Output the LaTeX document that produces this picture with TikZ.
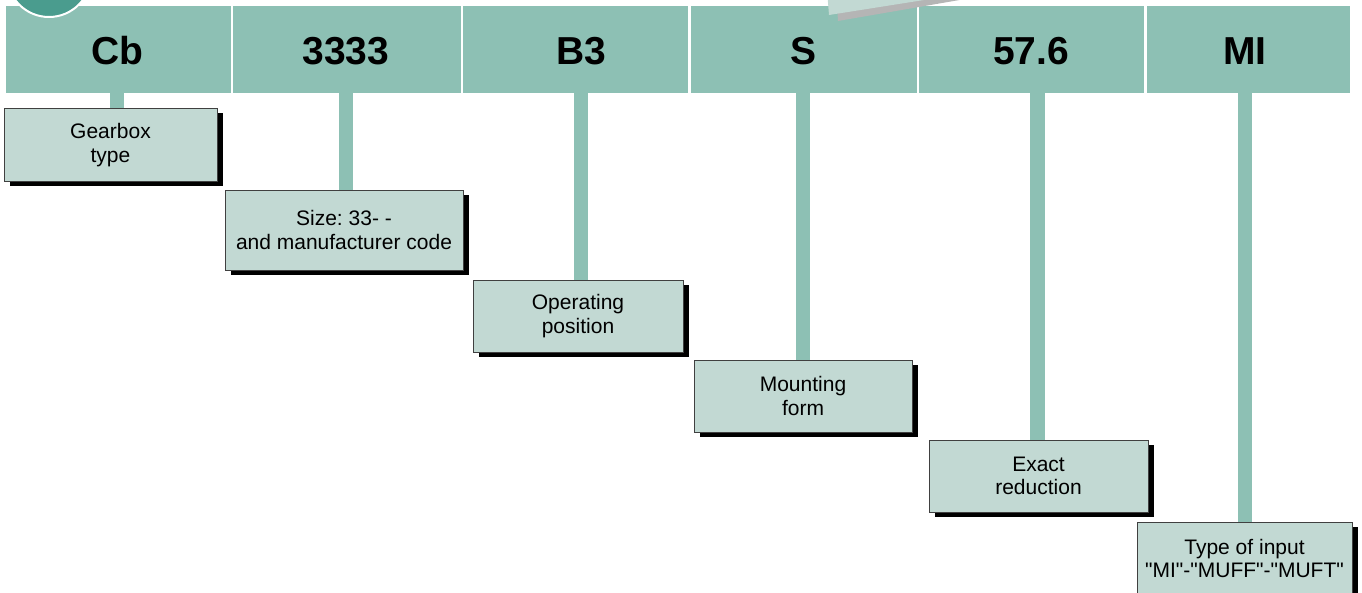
\documentclass[tikz,border=0pt]{standalone}
\usepackage{fontspec}
\setmainfont{Liberation Sans}[Ligatures=TeXOff]
\usetikzlibrary{shadows}
\definecolor{hdrteal}{HTML}{8DC0B4}
\definecolor{boxteal}{HTML}{C2D9D3}
\definecolor{darkteal}{HTML}{4A9C8E}
\definecolor{shadegrey}{HTML}{B5B5B5}
\frenchspacing
\begin{document}
\begin{tikzpicture}[x=1pt, y=-1pt,
    cell/.style = {fill=hdrteal, inner sep=0pt, minimum height=87pt},
    code/.style = {font=\fontsize{39}{39}\selectfont\bfseries, text height=28pt, text depth=0pt, inner sep=0pt},
    info/.style = {draw=black!75, line width=0.8pt, fill=boxteal, align=center, inner sep=0pt,
                   font=\fontsize{21}{23.5}\selectfont,
                   drop shadow={shadow xshift=6pt, shadow yshift=-5pt, fill=black, opacity=1}},
    stem/.style = {draw=hdrteal, line width=14.5pt}]
    \useasboundingbox (0,0) rectangle (1362,593);
    \clip (0,0) rectangle (1362,593);

    % header cells
    \node[cell, minimum width=225pt] (hCb) at (118.5, 49.5) {};
    \node[cell, minimum width=228pt] (hSize) at (347, 49.5) {};
    \node[cell, minimum width=225pt] (hPos) at (575.5, 49.5) {};
    \node[cell, minimum width=226pt] (hMount) at (804, 49.5) {};
    \node[cell, minimum width=225pt] (hRed) at (1031.5, 49.5) {};
    \node[cell, minimum width=203pt] (hInput) at (1248.5, 49.5) {};

    \node[code] (tCb) at (117, 51) {Cb};
    \node[code] (tSize) at (346, 51) {3333};
    \node[code] (tPos) at (581, 51) {B3};
    \node[code] (tMount) at (803, 51) {S};
    \node[code] (tRed) at (1031, 51) {57.6};
    \node[code] (tInput) at (1245, 51) {MI};

    % pieces of the slide cut off at the top
    \fill[shadegrey] (836,-10) -- (838,21) -- (1000,-7) -- cycle;
    \fill[boxteal] (827,-10) -- (829,15) -- (1000,-12) -- cycle;
    \draw[white, line width=2pt, fill=darkteal] (49,-25) circle (42pt);

    % description boxes
    \node[info, minimum width=213pt, minimum height=73pt] (bGear) at (110.5, 145) {Gearbox\\type};
    \node[info, minimum width=238pt, minimum height=80pt] (bSize) at (344, 230) {Size: 33- -\\and manufacturer code};
    \node[info, minimum width=210pt, minimum height=72pt] (bPos) at (578, 316) {Operating\\position};
    \node[info, minimum width=218pt, minimum height=72pt] (bMount) at (803, 396) {Mounting\\form};
    \node[info, minimum width=219pt, minimum height=72pt] (bRed) at (1038.5, 476) {Exact\\reduction};
    \node[info, minimum width=215pt, minimum height=73pt] (bInput) at (1244.5, 558.5) {Type of input\\"MI"-"MUFF"-"MUFT"};

    % stems
    \draw[stem] (tCb |- hCb.south) -- (tCb |- bGear.north);
    \draw[stem] (tSize |- hSize.south) -- (tSize |- bSize.north);
    \draw[stem] (tPos |- hPos.south) -- (tPos |- bPos.north);
    \draw[stem] (tMount |- hMount.south) -- (tMount |- bMount.north);
    \draw[stem] (1037.5, 93) coordinate (sRed) -- (sRed |- bRed.north);
    \draw[stem] (tInput |- hInput.south) -- (tInput |- bInput.north);

\end{tikzpicture}
\end{document}
